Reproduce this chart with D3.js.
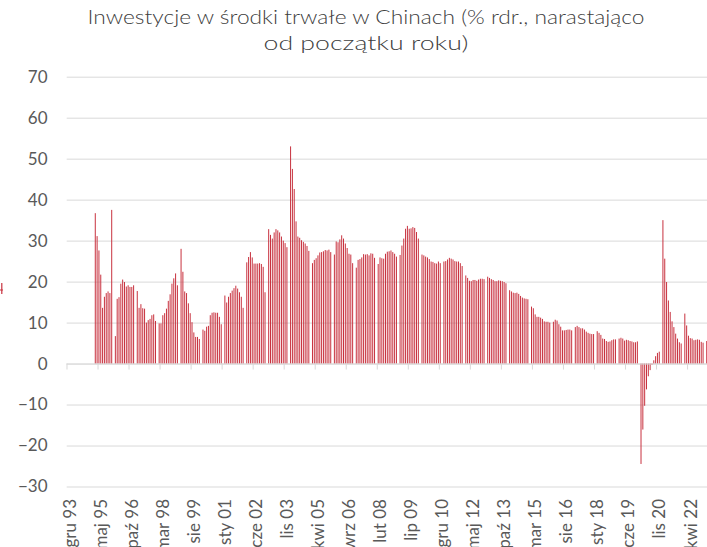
<!DOCTYPE html>
<html><head><meta charset="utf-8">
<script src="https://cdn.jsdelivr.net/npm/d3@7"></script>
<style>
html,body{margin:0;padding:0;background:#fff;}
svg{display:block;font-family:Lato,"Open Sans",sans-serif;}
</style></head>
<body><svg id="c" width="707" height="547"></svg>
<script>
// ---- data (% y/y, YTD), monthly, January not reported ----
const monthsPL = ["sty","lut","mar","kwi","maj","cze","lip","sie","wrz","paź","lis","gru"];
const startYear = 1993, startMonth = 11;   // gru 93
const endYear = 2023, endMonth = 3;        // kwi 23
const y1995 = [null, null, 36.7, 31.1, 27.6, 21.7, 13.6, 16.3, 17.2, 17.6, 17.2, 37.5];
const y1996 = [null, 6.7, 15.8, 16.2, 19.5, 20.5, 19.9, 18.8, 19.1, 18.7, 18.7, 19.1];
const y1997 = [null, 17.7, 13.6, 14.5, 13.5, 13.4, 10.0, 10.6, 10.9, 11.8, 12.0, 10.4];
const y1998 = [null, 9.8, 9.8, 11.8, 12.3, 13.4, 15.3, 16.9, 19.5, 20.8, 22.0, 19.1];
const y1999 = [null, 28.0, 22.4, 17.6, 17.2, 14.7, 12.3, 10.1, 7.6, 6.5, 6.5, 6.0];
const y2000 = [null, 8.3, 8.0, 9.0, 9.2, 11.8, 12.4, 12.5, 12.4, 12.4, 11.4, 9.6];
const y2001 = [null, 16.6, 14.9, 16.3, 17.2, 17.8, 18.4, 19.0, 18.3, 17.4, 16.3, 13.6];
const y2002 = [null, 24.7, 26.0, 27.2, 25.9, 24.4, 24.4, 24.4, 24.5, 24.3, 23.6, 17.4];
const y2003 = [null, 32.8, 31.4, 30.5, 32.0, 32.8, 32.5, 32.0, 31.0, 30.0, 29.4, 28.4];
const y2004 = [null, 53.0, 47.5, 42.6, 34.7, 31.0, 30.7, 30.1, 29.7, 29.3, 28.7, 27.5];
const y2005 = [null, 24.5, 25.3, 25.7, 26.4, 27.1, 27.2, 27.4, 27.7, 27.6, 27.8, 27.2];
const y2006 = [null, 26.6, 29.8, 29.6, 30.3, 31.3, 30.5, 29.3, 28.2, 26.8, 26.6, 24.5];
const y2007 = [null, 23.4, 25.3, 25.5, 25.9, 26.7, 26.6, 26.7, 26.4, 26.9, 26.8, 25.8];
const y2008 = [null, 24.3, 25.9, 25.7, 25.6, 26.8, 27.3, 27.4, 27.6, 27.2, 26.8, 26.1];
const y2009 = [null, 26.5, 28.8, 30.5, 32.9, 33.6, 32.9, 33.0, 33.3, 33.1, 32.1, 30.5];
const y2010 = [null, 26.6, 26.4, 26.1, 25.9, 25.5, 24.9, 24.8, 24.5, 24.4, 24.9, 24.5];
const y2011 = [null, 24.9, 25.0, 25.4, 25.8, 25.6, 25.4, 25.0, 24.9, 24.9, 24.5, 23.8];
const y2012 = [null, 21.5, 20.9, 20.2, 20.1, 20.4, 20.4, 20.2, 20.5, 20.7, 20.7, 20.6];
const y2013 = [null, 21.2, 20.9, 20.6, 20.4, 20.1, 20.1, 20.3, 20.2, 20.1, 19.9, 19.6];
const y2014 = [null, 17.9, 17.6, 17.3, 17.2, 17.3, 17.0, 16.5, 16.1, 15.9, 15.8, 15.7];
const y2015 = [null, 13.9, 13.5, 12.0, 11.4, 11.4, 11.2, 10.9, 10.3, 10.2, 10.2, 10.0];
const y2016 = [null, 10.2, 10.7, 10.5, 9.6, 9.0, 8.1, 8.1, 8.2, 8.3, 8.3, 8.1];
const y2017 = [null, 8.9, 9.2, 8.9, 8.6, 8.6, 8.3, 7.8, 7.5, 7.3, 7.2, 7.2];
const y2018 = [null, 7.9, 7.5, 7.0, 6.1, 6.0, 5.5, 5.3, 5.4, 5.7, 5.9, 5.9];
const y2019 = [null, 6.1, 6.3, 6.1, 5.6, 5.8, 5.7, 5.5, 5.4, 5.2, 5.2, 5.4];
const y2020 = [null, -24.5, -16.1, -10.3, -6.3, -3.1, -1.6, -0.3, 0.8, 1.8, 2.6, 2.9];
const y2021 = [null, 35.0, 25.6, 19.9, 15.4, 12.6, 10.3, 8.9, 7.3, 6.1, 5.2, 4.9];
const y2022 = [null, 12.2, 9.3, 6.8, 6.2, 6.1, 5.7, 5.8, 5.9, 5.8, 5.3, 5.1];
const y2023 = [null, 5.5, 5.1, 4.7];
const yearly = {1995:y1995,1996:y1996,1997:y1997,1998:y1998,1999:y1999,2000:y2000,2001:y2001,
  2002:y2002,2003:y2003,2004:y2004,2005:y2005,2006:y2006,2007:y2007,2008:y2008,2009:y2009,
  2010:y2010,2011:y2011,2012:y2012,2013:y2013,2014:y2014,2015:y2015,2016:y2016,2017:y2017,
  2018:y2018,2019:y2019,2020:y2020,2021:y2021,2022:y2022,2023:y2023};
const tickLabels = ["gru 93","maj 95","paź 96","mar 98","sie 99","sty 01","cze 02","lis 03","kwi 05",
  "wrz 06","lut 08","lip 09","gru 10","maj 12","paź 13","mar 15","sie 16","sty 18","cze 19","lis 20","kwi 22"];
const yTicks = [-30,-20,-10,0,10,20,30,40,50,60,70];
const titleLines = ["Inwestycje w środki trwałe  w Chinach (% rdr., narastająco","od początku roku)"];

// ---- build table ----
const rows = [];
for (let yr = startYear, m = startMonth; yr < endYear || (yr === endYear && m <= endMonth); ) {
  const lab = monthsPL[m] + " " + String(yr % 100).padStart(2, "0");
  const arr = yearly[yr];
  const v = arr && arr[m] != null ? arr[m] : null;
  rows.push({cat: lab, value: v});
  m++; if (m === 12) { m = 0; yr++; }
}

const svg = d3.select("#c");
const W = 707, H = 547;
svg.append("rect").attr("width", W).attr("height", H).attr("fill", "#fff");

const step = 1.8252, firstCenter = 67.9;
const x = d3.scaleBand().domain(rows.map(d => d.cat))
  .range([firstCenter - step/2, firstCenter - step/2 + rows.length*step]).padding(0);
const y = d3.scaleLinear().domain([-30, 70]).range([486.5, 76.7]);
const gridLeft = 66.7;

// grid + y labels
const gy = svg.append("g").attr("transform", `translate(${gridLeft},0)`)
  .call(d3.axisLeft(y).tickValues(yTicks).tickSize(-(W - gridLeft)).tickPadding(19.2)
        .tickFormat(d3.format("d")));
gy.select(".domain").remove();
gy.selectAll(".tick line").attr("stroke", "#d9d9d9").attr("stroke-width", 1);
gy.selectAll(".tick text").attr("fill", "#595959").attr("font-size", 17)
  .attr("font-family", "Lato, sans-serif");

// bars
const bw = 1.0;
svg.append("g").selectAll("rect").data(rows.filter(d => d.value != null)).join("rect")
  .attr("x", d => x(d.cat) + (x.bandwidth() - bw)/2)
  .attr("width", bw)
  .attr("y", d => Math.min(y(d.value), y(0)))
  .attr("height", d => Math.abs(y(d.value) - y(0)))
  .attr("fill", "#c8323f");

// x axis (ticks between categories, labels rotated)
const gx = svg.append("g").attr("transform", `translate(${-step/2},${y(0)})`)
  .call(d3.axisBottom(x).tickValues(tickLabels).tickSize(6).tickSizeOuter(0));
gx.select(".domain").attr("stroke", "#d9d9d9");
gx.selectAll(".tick line").attr("stroke", "#d9d9d9");
gx.selectAll(".tick text")
  .attr("fill", "#595959").attr("font-size", 17).attr("font-family", "Lato, sans-serif")
  .attr("text-anchor", "end").attr("x", 0).attr("y", 0).attr("dy", "0.35em")
  .attr("transform", `translate(3,${499 - y(0)}) rotate(-90)`);

// title
const title = svg.append("g").attr("fill", "#404040").attr("font-family", "Lato, sans-serif")
  .attr("font-size", 20).attr("font-weight", 300).attr("text-anchor", "middle");
title.selectAll("text").data(titleLines).join("text")
  .attr("x", 366).attr("y", (d, i) => 24 + i*25.5)
  .attr("textLength", (d, i) => i === 0 ? 557 : 205).attr("lengthAdjust", "spacingAndGlyphs")
  .text(d => d);

// clipped fragment at the left edge
svg.append("path").attr("d", "M1.8,283 V294 M0,290 H3").attr("stroke", "#c8323f")
  .attr("stroke-width", 1.2).attr("fill", "none");
</script></body></html>
